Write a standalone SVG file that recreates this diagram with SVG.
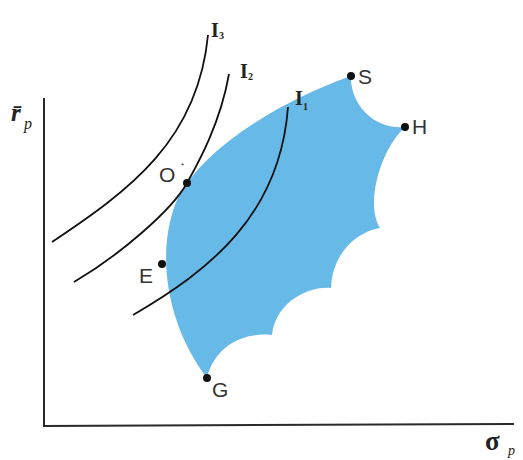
<svg xmlns="http://www.w3.org/2000/svg" width="523" height="460" viewBox="0 0 523 460">
<style>
.axis{stroke:#2a2a2a;stroke-width:2;fill:none}
.curve{stroke:#111;stroke-width:1.8;fill:none}
.dot{fill:#111}
.lbl{font-family:"Liberation Sans",Arial,sans-serif;font-size:21px;fill:#333}
.star{font-family:"Liberation Sans",Arial,sans-serif;font-size:8px;fill:#333}
.ilbl{font-family:"Liberation Serif","Times New Roman",serif;font-weight:bold;fill:#222}
.math{font-family:"Liberation Serif","Times New Roman",serif;fill:#222}
</style>
<rect width="523" height="460" fill="#fff"/>
<g id="region">
<path fill="#67b9e8" d="M207,378 C170,330 155,260 175,205 C195,155 270,105 351,76 C350,105 375,130 405,127 C380,150 365,205 380,228 C355,232 332,255 331,288 C305,286 275,305 272,335 C245,332 215,345 207,378 Z"/>
</g>
<g id="axes">
<path class="axis" d="M44,98 L44,426 L514,424"/>
<text class="math" x="11" y="121" font-size="25" font-style="italic" font-weight="bold">r̄</text>
<text class="math" x="24" y="129" font-size="16" font-style="italic">p</text>
<text class="math" x="485" y="450" font-size="27" font-weight="bold">σ</text>
<text class="math" x="508" y="455" font-size="14" font-style="italic">p</text>
</g>
<g id="connectors">
<path id="I3" class="curve" d="M52,242 C130,190 198,140 208,35"/>
<path id="I2" class="curve" d="M74,282 C120,255 172,210 187,183 C197,165 220,125 229,74"/>
<path id="I1" class="curve" d="M133,315 C210,270 280,215 288,107"/>
</g>
<g id="label-I3"><text class="ilbl" x="211" y="37" font-size="20">I</text><text class="ilbl" x="219" y="39" font-size="10">3</text></g>
<g id="label-I2"><text class="ilbl" x="240" y="78" font-size="20">I</text><text class="ilbl" x="248" y="80" font-size="10">2</text></g>
<g id="label-I1"><text class="ilbl" x="295" y="105" font-size="20">I</text><text class="ilbl" x="303" y="110" font-size="10">1</text></g>
<g id="node-S"><circle class="dot" cx="351" cy="76" r="4"/><text class="lbl" x="358" y="84">S</text></g>
<g id="node-H"><circle class="dot" cx="405" cy="127" r="4"/><text class="lbl" x="412" y="134">H</text></g>
<g id="node-O"><circle class="dot" cx="187" cy="183" r="4"/><text class="lbl" x="159" y="182">O</text><text class="star" x="181" y="168">*</text></g>
<g id="node-E"><circle class="dot" cx="162" cy="264" r="4"/><text class="lbl" x="139" y="283">E</text></g>
<g id="node-G"><circle class="dot" cx="207" cy="378" r="4"/><text class="lbl" x="212" y="397">G</text></g>
</svg>
